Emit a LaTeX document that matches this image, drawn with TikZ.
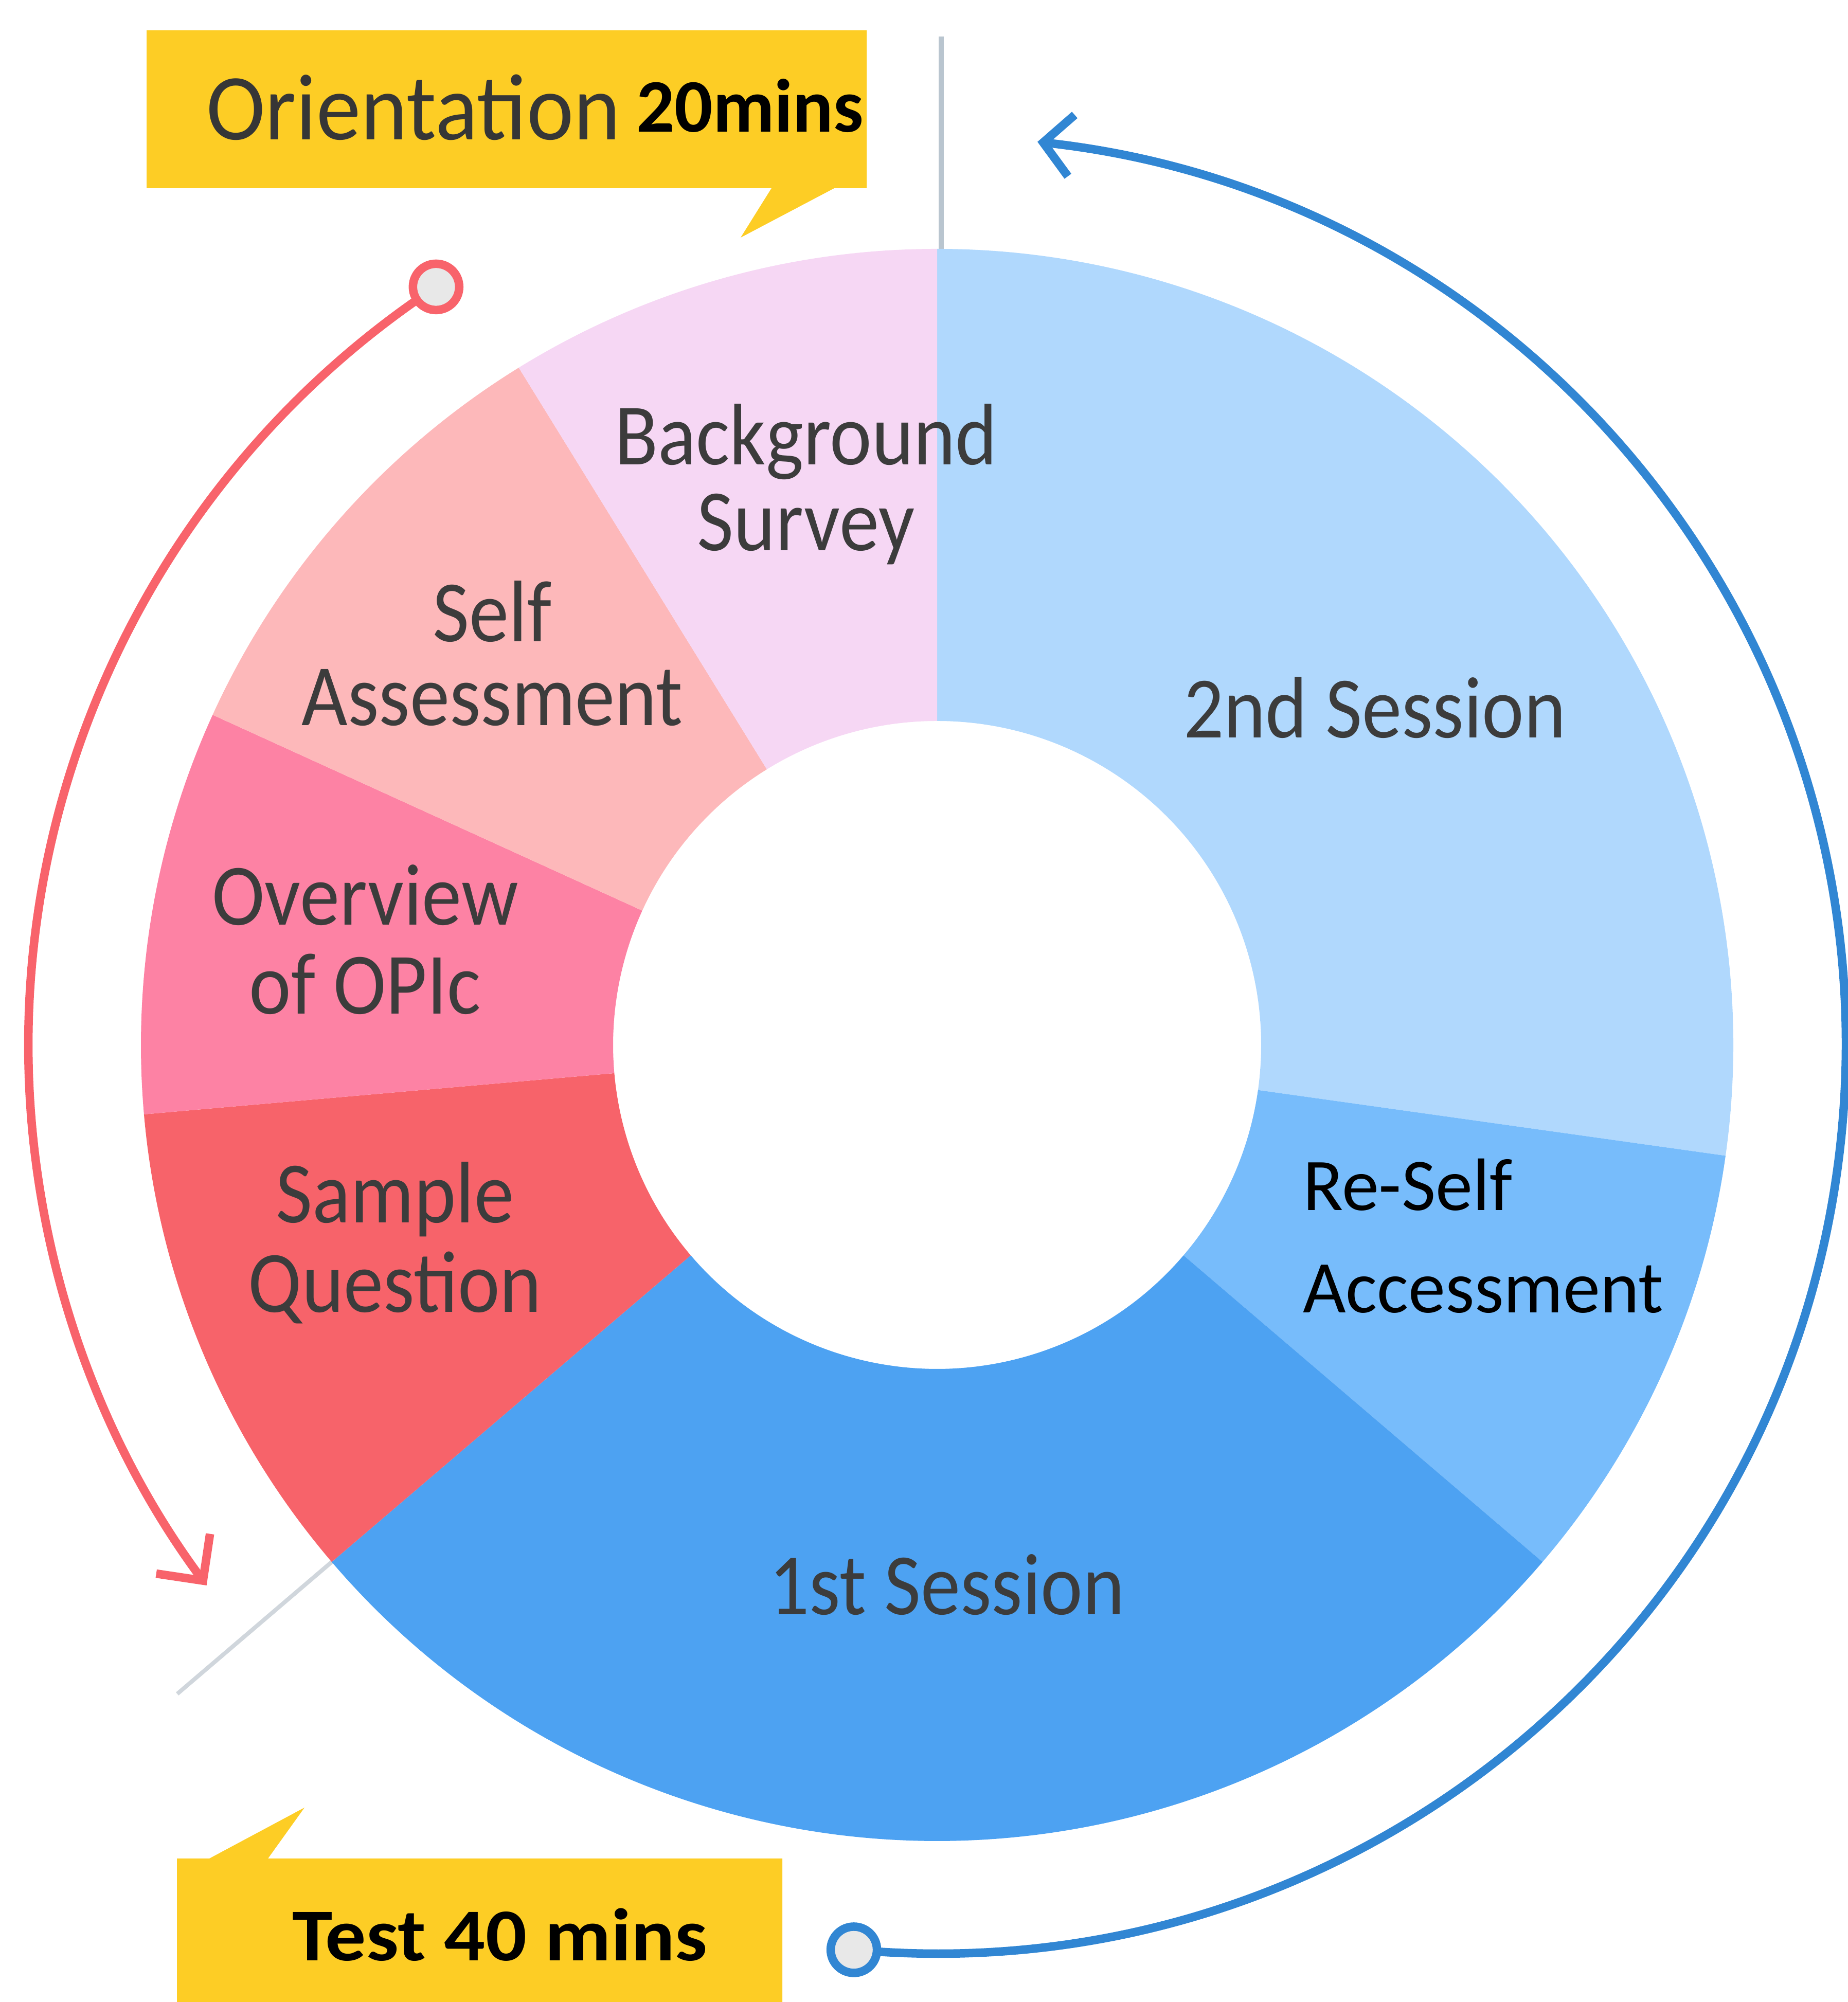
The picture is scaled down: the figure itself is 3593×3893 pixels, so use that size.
\documentclass[tikz,border=0pt]{standalone}
\usepackage{fontspec}
\setmainfont{Carlito}
\newfontfamily\labfont[FakeStretch=0.91]{Carlito}
\newfontfamily\orifont[FakeStretch=0.945]{Carlito}
\newfontfamily\testfont[FakeStretch=1.09]{Carlito}
\usetikzlibrary{arrows.meta,calc}
\definecolor{cBg}{HTML}{F6D7F4}
\definecolor{cSelf}{HTML}{FDB8BA}
\definecolor{cOver}{HTML}{FD82A4}
\definecolor{cSample}{HTML}{F7636A}
\definecolor{cTwo}{HTML}{B0D8FD}
\definecolor{cRe}{HTML}{77BCFB}
\definecolor{cOne}{HTML}{4DA2F2}
\definecolor{cYel}{HTML}{FDCD25}
\definecolor{cRed}{HTML}{F8636B}
\definecolor{cBlue}{HTML}{3186D3}
\definecolor{cTxt}{HTML}{3C3C3C}
\definecolor{cOri}{HTML}{363636}
\definecolor{cGuide}{HTML}{B9C5CF}
\definecolor{cGuideB}{HTML}{D0D6DC}
\definecolor{cMark}{HTML}{E8E8E8}
\newcommand\donutseg[3]{%
  \fill[#3] ($(C)+(#1:1548)$) arc[start angle=#1,end angle=#2,radius=1548]
    -- ($(C)+(#2:630)$) arc[start angle=#2,end angle=#1,radius=630] -- cycle;}
\tikzset{
  lab/.style={font=\labfont\fontsize{34}{#1}\selectfont, text=cTxt, align=center, inner sep=0pt, anchor=base},
  boxtext/.style={inner sep=0pt, anchor=base west},
  flowarc/.style={line width=3.3pt},
  marker/.style={circle, fill=cMark, line width=3.3pt, minimum size=18pt, inner sep=0pt},
}
\begin{document}
\begin{tikzpicture}[x=0.2pt,y=0.2pt]
\useasboundingbox (0,0) rectangle (3593,3893);
\coordinate (C) at (1822,1861);

% guide lines
\coordinate (vtop) at (1830,3822);
\coordinate (vbot) at (1830,3409);
\draw[cGuide, line width=2pt] (vtop) -- (vbot);
\coordinate (dstart) at ($(C)+(220.5:1548)$);
\coordinate (dend) at ($(C)+(220.5:1943)$);
\draw[cGuideB, line width=1.6pt] (dstart) -- (dend);

% donut
\donutseg{-8}{90}{cTwo}
\donutseg{-40.5}{-8}{cRe}
\donutseg{-139.5}{-40.5}{cOne}
\donutseg{185}{220.5}{cSample}
\donutseg{155.5}{185}{cOver}
\donutseg{121.7}{155.5}{cSelf}
\donutseg{90}{121.7}{cBg}

% arcs
\coordinate (rs) at ($(C)+(123.46:1767)$);
\draw[flowarc, cRed, -{Straight Barb[length=13pt,width=26pt]}] (rs) arc[start angle=123.46,end angle=216.5,radius=1767];
\node[marker, draw=cRed] (rm) at (rs) {};
\coordinate (bs) at ($(C)+(-95.26:1767)$);
\draw[flowarc, cBlue, -{Straight Barb[length=11pt,width=24pt]}] (bs) arc[start angle=-95.26,end angle=83.66,radius=1767];
\node[marker, draw=cBlue] (bm) at (bs) {};

% callout boxes
\fill[cYel] (285,3527) -- (1500,3527) -- (1440,3431) -- (1622,3527) -- (1685,3527) -- (1685,3834) -- (285,3834) -- cycle;
\fill[cYel] (344,0) -- (1521,0) -- (1521,279) -- (521,279) -- (592,378) -- (407,279) -- (344,279) -- cycle;

\node[boxtext, font=\orifont\fontsize{36.6}{40}\selectfont, text=cOri] (ori) at (400,3621) {Orientation};
\node[boxtext, font=\bfseries\fontsize{29.4}{32}\selectfont, text=black] (oritime) at (1236,3636) {20mins};
\node[boxtext, font=\testfont\bfseries\fontsize{29}{32}\selectfont, text=black] (test) at (567,81) {Test 40 mins};

% labels (anchor = baseline of last line)
\node[lab=33.4] (bg) at (1567,2822) {Background\\Survey};
\node[lab=32.6] (self) at (957,2482) {Self\\Assessment};
\node[lab=34.6] (over) at (710,1921) {Overview\\of OPIc};
\node[lab=34.8] (sample) at (768,1341) {Sample\\Question};
\node[lab=34] (two) at (2673,2458) {2nd Session};
\node[font=\fontsize{28.9}{39.8}\selectfont, text=black, align=left, inner sep=0pt, anchor=base west] (re) at (2532,1340) {Re-Self\\Accessment};
\node[lab=34] (one) at (1841,753) {1st Session};
\end{tikzpicture}
\end{document}
